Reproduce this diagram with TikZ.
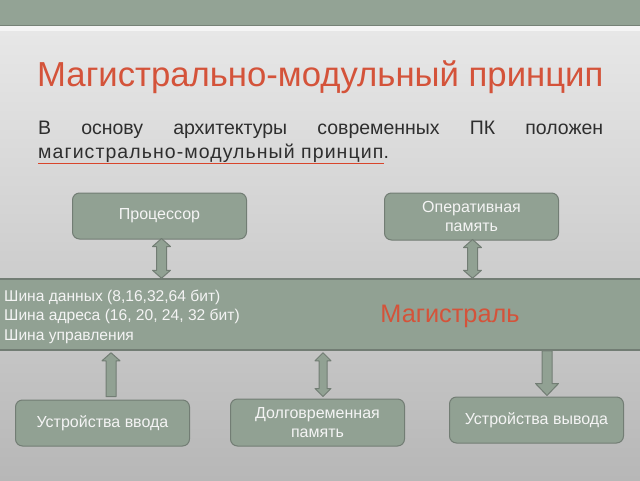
\documentclass[tikz,border=0pt]{standalone}
\usepackage{fontspec}
\setmainfont{Liberation Sans}
\usetikzlibrary{calc}
\definecolor{band}{HTML}{93A395}
\definecolor{boxfill}{HTML}{91A193}
\definecolor{boxdraw}{HTML}{727D74}
\definecolor{titlered}{HTML}{D4533A}
\definecolor{linkred}{HTML}{D9452B}
\definecolor{bodytxt}{HTML}{2E2E2E}
\definecolor{boxtxt}{HTML}{F4F4F4}
\definecolor{bgtop}{HTML}{E7E7E7}
\definecolor{bgbot}{HTML}{B7B7B7}
\tikzset{
  unitbox/.style={draw=boxdraw, fill=boxfill, line width=1pt, rounded corners=7pt,
    minimum width=174pt, minimum height=46pt, text=boxtxt, align=center,
    font=\fontsize{16}{18.5}\selectfont, inner sep=2pt},
  barrow/.style={draw=boxdraw, fill=boxfill, line width=1pt, line join=round},
}
% #1 top coord, #2 bottom coord, #3 shaft half width, #4 head half width, #5 head length
\newcommand\myDblArrow[5]{%
  \draw[barrow] let \p1=(#1), \p2=(#2) in
    (\x1,\y1) -- (\x1+#4,\y1-#5) -- (\x1+#3,\y1-#5) -- (\x1+#3,\y2+#5) -- (\x1+#4,\y2+#5)
    -- (\x1,\y2) -- (\x1-#4,\y2+#5) -- (\x1-#3,\y2+#5) -- (\x1-#3,\y1-#5) -- (\x1-#4,\y1-#5) -- cycle;}
\newcommand\myUpArrow[5]{%
  \draw[barrow] let \p1=(#1), \p2=(#2) in
    (\x1,\y1) -- (\x1+#4,\y1-#5) -- (\x1+#3,\y1-#5) -- (\x1+#3,\y2) -- (\x1-#3,\y2)
    -- (\x1-#3,\y1-#5) -- (\x1-#4,\y1-#5) -- cycle;}
\newcommand\myDownArrow[5]{%
  \draw[barrow] let \p1=(#1), \p2=(#2) in
    (\x1-#3,\y1) -- (\x1+#3,\y1) -- (\x1+#3,\y2+#5) -- (\x1+#4,\y2+#5) -- (\x1,\y2)
    -- (\x1-#4,\y2+#5) -- (\x1-#3,\y2+#5) -- cycle;}
\begin{document}
\begin{tikzpicture}[x=1pt,y=-1pt]
\useasboundingbox (0,0) rectangle (640,480);
% background
\shade[top color=bgtop, bottom color=bgbot] (0,31) rectangle (640,480);
\fill[white!96!black] (0,25) rectangle (640,31);
\fill[band] (0,0) rectangle (640,25);
\draw[band!80!black, line width=0.6pt] (0,25) -- (640,25);

% title
\node[anchor=base west, inner sep=0, text=titlered, font=\fontsize{34.7}{40}\selectfont]
  (title) at (37,86) {Магистрально-модульный принцип};

% paragraph
\node[anchor=base west, inner sep=0, text=bodytxt, font=\fontsize{19.5}{24}\selectfont]
  (line1) at (38,134) {\makebox[565pt][s]{В основу архитектуры современных ПК положен}};
\node[anchor=base west, inner sep=0, text=bodytxt, font=\fontsize{19.5}{24}\selectfont]
  (line2) at (38,158) {\addfontfeatures{LetterSpace=5.5}магистрально-модульный принцип};
\fill[linkred] ($(line2.base west)+(0,4.6)$) rectangle ($(line2.base east)+(0,6.2)$);
\node[anchor=base west, inner sep=0, text=bodytxt, font=\fontsize{19.5}{24}\selectfont]
  (dot) at (line2.base east) {.};

% bus
\node[draw=boxdraw, fill=boxfill, line width=1.5pt, minimum width=646pt, minimum height=71pt,
  inner sep=0] (bus) at (320,314.5) {};
\node[anchor=west, inner sep=0, text=boxtxt, align=left, font=\fontsize{15.6}{19.5}\selectfont]
  (bustext) at (4,316.5) {Шина данных (8,16,32,64 бит)\\Шина адреса (16, 20, 24, 32 бит)\\Шина управления};
\node[text=titlered, font=\fontsize{25.3}{28}\selectfont, inner sep=0] (busname) at (450,316) {Магистраль};

% units
\node[unitbox] (proc) at (159.5,216) {Процессор};
\node[unitbox, minimum height=47pt] (ram) at (471.5,216.5) {Оперативная\\память};
\node[unitbox] (inp) at (102.5,423) {Устройства ввода};
\node[unitbox, minimum height=47pt] (lterm) at (317.5,422.5) {Долговременная\\память};
\node[unitbox] (outp) at (536.5,420) {Устройства вывода};

% connectors
\coordinate (a1) at ($(proc.south)+(2,-1)$);
\coordinate (b1) at (a1 |- bus.north);
\myDblArrow{a1}{b1}{5pt}{9pt}{8pt}
\coordinate (a2) at ($(ram.south)+(1,-1)$);
\coordinate (b2) at (a2 |- bus.north);
\myDblArrow{a2}{b2}{5pt}{9pt}{8pt}
\coordinate (a3) at ($(bus.south)+(0,2)$);
\coordinate (t3) at ($(lterm.north)+(5.5,-2)$);
\coordinate (s3) at (t3 |- a3);
\myDblArrow{s3}{t3}{4pt}{8pt}{8pt}
\coordinate (t4) at ($(inp.north)+(8.5,-3)$);
\coordinate (s4) at (t4 |- a3);
\myUpArrow{s4}{t4}{5pt}{9pt}{8pt}
\coordinate (t5) at ($(outp.north)+(10.5,-1)$);
\coordinate (s5) at (t5 |- bus.south);
\myDownArrow{s5}{t5}{5pt}{11.5pt}{12pt}
\end{tikzpicture}
\end{document}
